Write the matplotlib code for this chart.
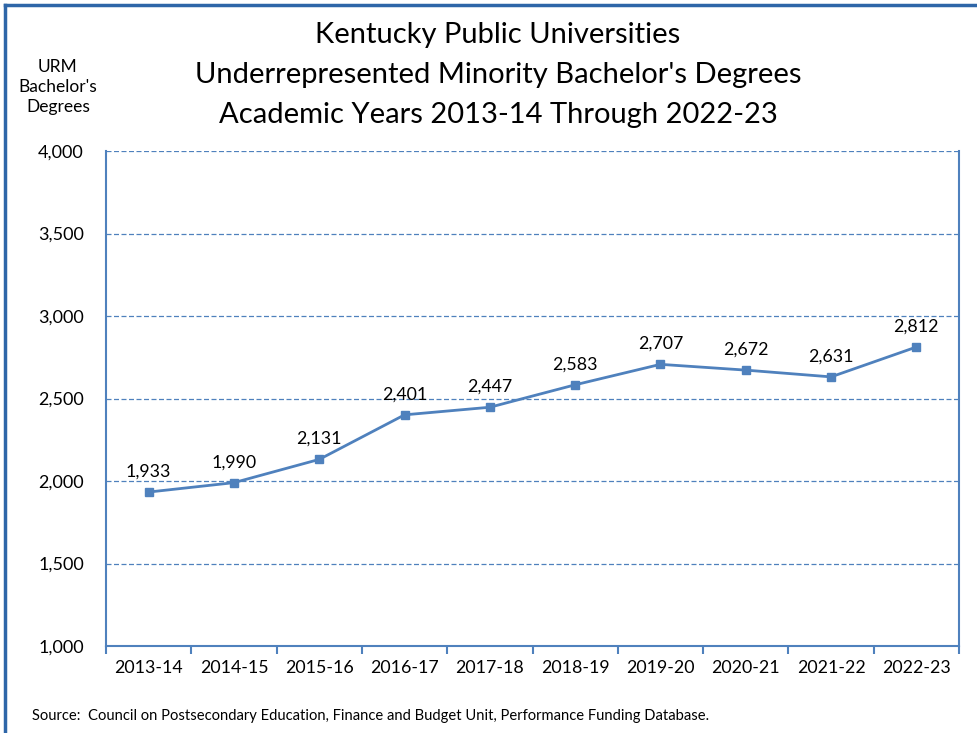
import numpy as np
import matplotlib.pyplot as plt
from matplotlib.lines import Line2D

plt.rcParams['font.family'] = ['Lato', 'DejaVu Sans']

years = ['2013-14', '2014-15', '2015-16', '2016-17', '2017-18',
         '2018-19', '2019-20', '2020-21', '2021-22', '2022-23']
degrees = [1933, 1990, 2131, 2401, 2447, 2583, 2707, 2672, 2631, 2812]
y_ticks = [1000, 1500, 2000, 2500, 3000, 3500, 4000]

blue = '#4F81BD'

fig = plt.figure(figsize=(9.78, 7.33), dpi=100)
ax = fig.add_axes([106/978, 1 - 646/733, (959 - 106)/978, (646 - 151)/733])

x = np.arange(len(years))
ax.plot(x, degrees, color=blue, linewidth=2, marker='s', markersize=6, zorder=3)
for xi, v in zip(x, degrees):
    ax.annotate(f'{v:,}', (xi, v), xytext=(0, 9), textcoords='offset points',
                ha='center', va='bottom', fontsize=12.8)

ax.set_xlim(-0.5, len(years) - 0.5)
ax.set_ylim(1000, 4000)
ax.set_yticks(y_ticks)
ax.set_yticklabels([f'{t:,}' for t in y_ticks], fontsize=13)
ax.set_xticks(x)
ax.set_xticklabels(years, fontsize=12.8)
ax.tick_params(axis='x', length=0, pad=10)
ax.tick_params(axis='y', length=0, pad=16)
# category boundary ticks
ax.set_xticks(np.arange(-0.5, len(years)), minor=True)
ax.tick_params(axis='x', which='minor', length=6, color=blue, width=1.5, direction='out')

for yv in y_ticks[1:]:
    ax.axhline(yv, color=blue, linestyle=(0, (4, 2)), linewidth=0.9, zorder=1)

for side in ['left', 'right', 'bottom']:
    ax.spines[side].set_color(blue)
    ax.spines[side].set_linewidth(1.5)
ax.spines['top'].set_visible(False)

fig.text(498/978, 1 - 35/733, 'Kentucky Public Universities', ha='center', va='center', fontsize=21)
fig.text(498/978, 1 - 75/733, "Underrepresented Minority Bachelor's Degrees", ha='center', va='center', fontsize=21)
fig.text(498/978, 1 - 115/733, 'Academic Years 2013-14 Through 2022-23', ha='center', va='center', fontsize=21)

fig.text(58/978, 1 - 87/733, "URM\nBachelor's\nDegrees", ha='center', va='center', fontsize=12.5, linespacing=1.32)

fig.text(32/978, 1 - 716/733, 'Source:  Council on Postsecondary Education, Finance and Budget Unit, Performance Funding Database.',
         ha='left', va='center', fontsize=10.6)

# outer border (left and top)
border = '#2E66A8'
fig.add_artist(Line2D([5/978, 5/978], [0, 1 - 5/733], color=border, linewidth=2.5, transform=fig.transFigure))
fig.add_artist(Line2D([5/978, 1], [1 - 5/733, 1 - 5/733], color=border, linewidth=2.5, transform=fig.transFigure))

fig.savefig('out.png', dpi=100)
